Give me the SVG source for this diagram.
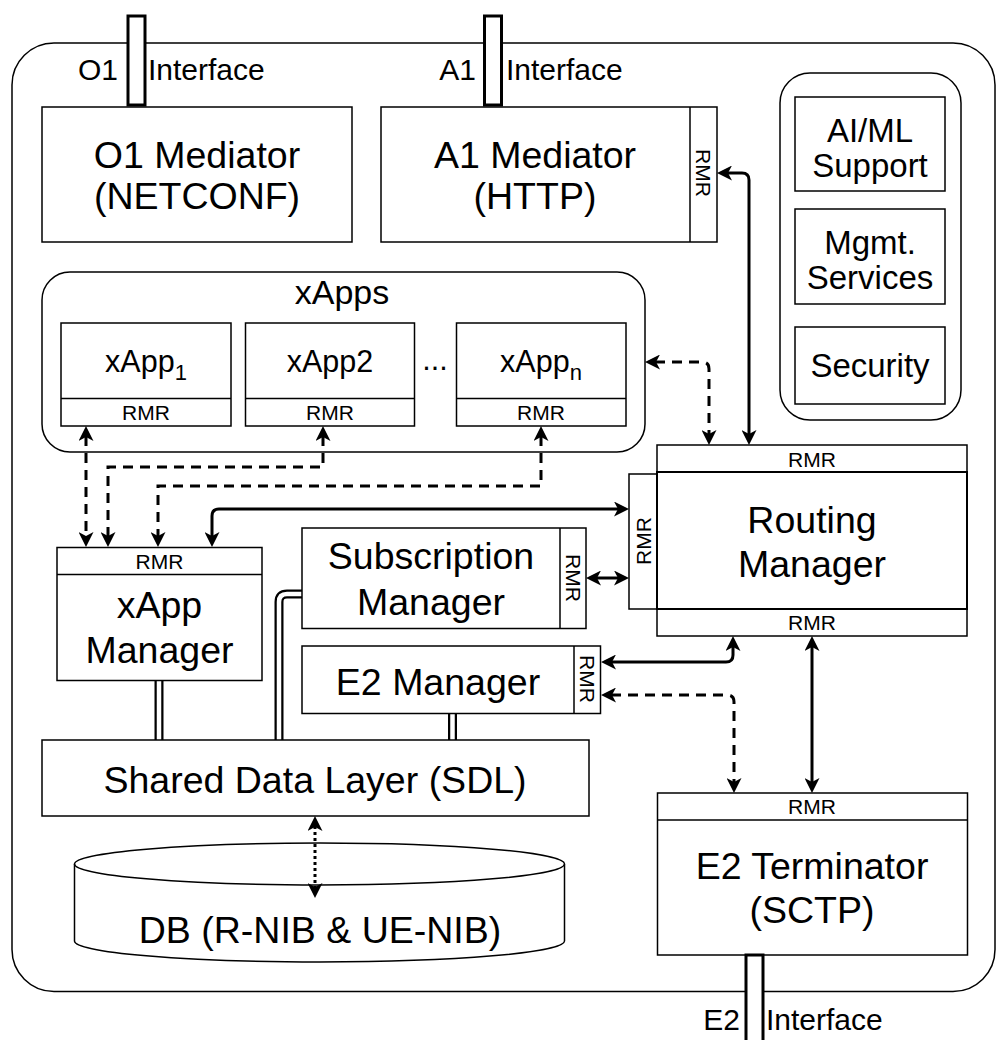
<svg xmlns="http://www.w3.org/2000/svg" width="997" height="1040" viewBox="0 0 997 1040">
  <defs>
    <style>
      text { font-family: "Liberation Sans", Arial, Helvetica, sans-serif; fill: #000; }
      .box { fill: #fff; stroke: #000; stroke-width: 1.5; }
      .cont { fill: none; stroke: #000; stroke-width: 1.5; }
      .iface { fill: #fff; stroke: #000; stroke-width: 3; }
      .big { font-size: 37.5px; text-anchor: middle; }
      .mid { font-size: 33px; text-anchor: middle; }
      .app { font-size: 30.5px; text-anchor: middle; }
      .lbl { font-size: 30px; }
      .rmr { font-size: 21px; text-anchor: middle; }
      .vr { font-size: 21px; text-anchor: middle; dominant-baseline: central; }
      .sub { font-size: 22px; }
      .solid { fill: none; stroke: #000; stroke-width: 3; marker-start: url(#arr); marker-end: url(#arr); }
      .dash { fill: none; stroke: #000; stroke-width: 3; stroke-dasharray: 10 7; marker-start: url(#arr); marker-end: url(#arr); }
      .dot { fill: none; stroke: #000; stroke-width: 3; stroke-dasharray: 3 3; marker-start: url(#arr); marker-end: url(#arr); }
      .linkO { fill: none; stroke: #000; stroke-width: 9; }
      .linkI { fill: none; stroke: #fff; stroke-width: 4.5; }
    </style>
    <!-- classic notched arrowhead; tip sits 10px beyond the path end -->
    <marker id="arr" viewBox="0 0 15 15" markerWidth="15" markerHeight="15" markerUnits="userSpaceOnUse" refX="5" refY="7.5" orient="auto-start-reverse">
      <path d="M0,0 L15,7.5 L0,15 L4,7.5 Z" fill="#000"/>
    </marker>
  </defs>

  <!-- RIC platform boundary -->
  <g id="platform">
    <rect x="12" y="43" width="983" height="948.5" rx="42" class="cont"/>
  </g>

  <!-- external interfaces -->
  <g id="o1-interface">
    <rect x="128" y="16" width="17" height="89" class="iface"/>
    <text x="118" y="80" class="lbl" text-anchor="end">O1</text>
    <text x="148" y="80" class="lbl">Interface</text>
  </g>
  <g id="a1-interface">
    <rect x="484.5" y="16" width="17" height="89" class="iface"/>
    <text x="476" y="80" class="lbl" text-anchor="end">A1</text>
    <text x="506" y="80" class="lbl">Interface</text>
  </g>

  <g id="o1-mediator">
    <rect x="42" y="107" width="310" height="135" class="box"/>
    <text x="197" y="168" class="big">O1 Mediator</text>
    <text x="197" y="209" class="big">(NETCONF)</text>
  </g>

  <g id="a1-mediator">
    <rect x="381" y="107" width="336" height="135" class="box"/>
    <line x1="690" y1="107" x2="690" y2="242" stroke="#000" stroke-width="1.5"/>
    <text x="535" y="168" class="big">A1 Mediator</text>
    <text x="535" y="209" class="big">(HTTP)</text>
    <text x="703.5" y="173" class="vr" transform="rotate(90 703.5 173)">RMR</text>
  </g>

  <g id="platform-services">
    <rect x="780" y="73" width="181" height="347" rx="30" class="cont"/>
    <g id="aiml-support">
      <rect x="795" y="97" width="150" height="94" class="box"/>
      <text x="870" y="142" class="mid">AI/ML</text>
      <text x="870" y="177" class="mid">Support</text>
    </g>
    <g id="mgmt-services">
      <rect x="795" y="209" width="150" height="95" class="box"/>
      <text x="870" y="254" class="mid">Mgmt.</text>
      <text x="870" y="289" class="mid">Services</text>
    </g>
    <g id="security">
      <rect x="795" y="327" width="150" height="77" class="box"/>
      <text x="870" y="377" class="mid">Security</text>
    </g>
  </g>

  <g id="xapps">
    <rect x="42" y="272" width="603" height="180" rx="28" class="cont"/>
    <text x="342" y="304" font-size="34" text-anchor="middle">xApps</text>
    <g id="xapp-1">
      <rect x="61" y="323" width="170" height="103" class="box"/>
      <line x1="61" y1="398.5" x2="231" y2="398.5" stroke="#000" stroke-width="1.5"/>
      <text x="146" y="372" class="app">xApp<tspan class="sub" dy="8">1</tspan></text>
      <text x="146" y="420" class="rmr">RMR</text>
    </g>
    <g id="xapp-2">
      <rect x="245.5" y="323" width="169" height="103" class="box"/>
      <line x1="245.5" y1="398.5" x2="414.5" y2="398.5" stroke="#000" stroke-width="1.5"/>
      <text x="330" y="372" class="app">xApp2</text>
      <text x="330" y="420" class="rmr">RMR</text>
    </g>
    <text x="435" y="370" class="app">...</text>
    <g id="xapp-n">
      <rect x="456.5" y="323" width="169.5" height="103" class="box"/>
      <line x1="456.5" y1="398.5" x2="626" y2="398.5" stroke="#000" stroke-width="1.5"/>
      <text x="541" y="372" class="app">xApp<tspan class="sub" dy="8">n</tspan></text>
      <text x="541" y="420" class="rmr">RMR</text>
    </g>
  </g>

  <!-- SDL access links (double lines) -->
  <g id="sdl-links">
    <path d="M159 680 L159 740" class="linkO"/>
    <path d="M159 680 L159 740" class="linkI"/>
    <path d="M302 594 L287 594 Q279 594 279 602 L279 740" class="linkO"/>
    <path d="M302 594 L287 594 Q279 594 279 602 L279 740" class="linkI"/>
    <path d="M452.5 713 L452.5 740" class="linkO"/>
    <path d="M452.5 713 L452.5 740" class="linkI"/>
  </g>

  <g id="routing-manager">
    <rect x="629" y="474" width="28" height="135" class="box"/>
    <rect x="657" y="445" width="310" height="27" class="box"/>
    <rect x="657" y="609" width="310" height="27" class="box"/>
    <rect x="657" y="472" width="310" height="137" fill="#fff" stroke="#000" stroke-width="2"/>
    <text x="812" y="466.5" class="rmr">RMR</text>
    <text x="812" y="630" class="rmr">RMR</text>
    <text x="643" y="541" class="vr" transform="rotate(-90 643 541)">RMR</text>
    <text x="812" y="533" class="big">Routing</text>
    <text x="812" y="577" class="big">Manager</text>
  </g>

  <g id="xapp-manager">
    <rect x="57" y="547.5" width="205" height="133" class="box"/>
    <line x1="57" y1="574.5" x2="262" y2="574.5" stroke="#000" stroke-width="1.5"/>
    <text x="159.5" y="569" class="rmr">RMR</text>
    <text x="159.5" y="618" class="big">xApp</text>
    <text x="159.5" y="663" class="big">Manager</text>
  </g>

  <g id="subscription-manager">
    <rect x="302" y="528" width="284" height="100.5" class="box"/>
    <line x1="560" y1="528" x2="560" y2="628.5" stroke="#000" stroke-width="1.5"/>
    <text x="431" y="569" class="big">Subscription</text>
    <text x="431" y="615" class="big">Manager</text>
    <text x="573" y="578" class="vr" transform="rotate(90 573 578)">RMR</text>
  </g>

  <g id="e2-manager">
    <rect x="302" y="646" width="298.5" height="67.5" class="box"/>
    <line x1="574" y1="646" x2="574" y2="713.5" stroke="#000" stroke-width="1.5"/>
    <text x="438" y="695" class="big">E2 Manager</text>
    <text x="587" y="679" class="vr" transform="rotate(90 587 679)">RMR</text>
  </g>

  <g id="sdl">
    <rect x="42" y="740" width="547" height="76" class="box"/>
    <text x="315" y="793" class="big">Shared Data Layer (SDL)</text>
  </g>

  <g id="db">
    <path d="M74.5 864 A245 21 0 0 1 564.5 864 L564.5 941 A245 21 0 0 1 74.5 941 Z" class="box"/>
    <path d="M74.5 864 A245 21 0 0 0 564.5 864" class="cont"/>
    <text x="320" y="943" class="big">DB (R-NIB &amp; UE-NIB)</text>
  </g>

  <g id="e2-terminator">
    <rect x="657.5" y="793" width="310" height="162" class="box"/>
    <line x1="657.5" y1="820" x2="967.5" y2="820" stroke="#000" stroke-width="1.5"/>
    <text x="812" y="814" class="rmr">RMR</text>
    <text x="812" y="879" class="big">E2 Terminator</text>
    <text x="812" y="923" class="big">(SCTP)</text>
  </g>

  <g id="e2-interface">
    <rect x="746" y="955" width="17" height="100" class="iface"/>
    <text x="740" y="1030" class="lbl" text-anchor="end">E2</text>
    <text x="766" y="1030" class="lbl">Interface</text>
  </g>

  <!-- RMR message paths -->
  <g id="connectors">
    <path d="M727 173 L742 173 Q749 173 749 180 L749 435" class="solid"/>
    <path d="M212 537 L212 516 Q212 509 219 509 L619 509" class="solid"/>
    <path d="M596 578 L619 578" class="solid"/>
    <path d="M611 662 L726 662 Q733 662 733 655 L733 646" class="solid"/>
    <path d="M812 646 L812 783" class="solid"/>
    <path d="M86 436 L86 537" class="dash"/>
    <path d="M323 436 L323 467 L108 467 L108 537" class="dash"/>
    <path d="M541 436 L541 486 L158 486 L158 537" class="dash"/>
    <path d="M655 362 L702 362 Q709 362 709 369 L709 435" class="dash"/>
    <path d="M611 695 L727 695 Q734 695 734 702 L734 783" class="dash"/>
    <path d="M315 826 L315 888" class="dot"/>
  </g>
</svg>
